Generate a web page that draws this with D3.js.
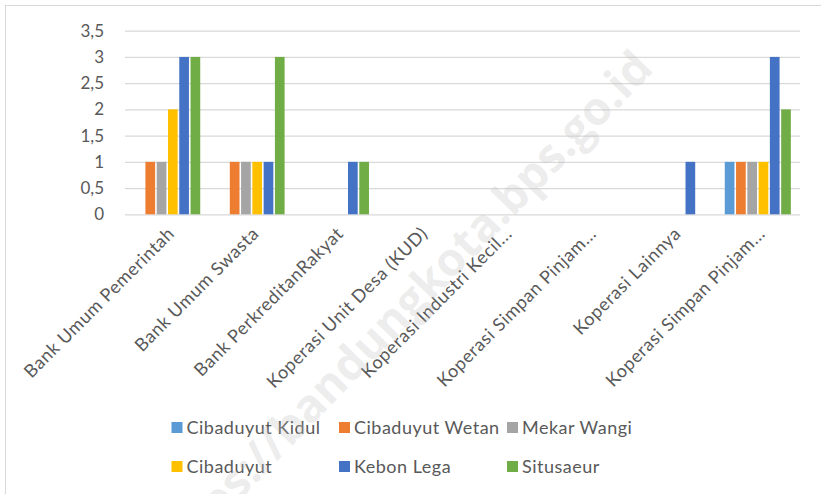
<!DOCTYPE html>
<html>
<head>
<meta charset="utf-8">
<script src="https://cdn.jsdelivr.net/npm/d3@7"></script>
<style>
  html, body { margin: 0; padding: 0; background: #fff; }
  svg { display: block; }
  text { font-family: Lato, "Open Sans", sans-serif; fill: #595959; }
</style>
</head>
<body>
<svg id="chart" width="821" height="494"></svg>
<script>
const categories = [
  "Bank Umum Pemerintah",
  "Bank Umum Swasta",
  "Bank PerkreditanRakyat",
  "Koperasi Unit Desa (KUD)",
  "Koperasi Industri Kecil...",
  "Koperasi Simpan Pinjam...",
  "Koperasi Lainnya",
  "Koperasi Simpan Pinjam..."
];
const seriesNames = ["Cibaduyut Kidul", "Cibaduyut Wetan", "Mekar Wangi", "Cibaduyut", "Kebon Lega", "Situsaeur"];
const seriesColors = ["#5B9BD5", "#ED7D31", "#A5A5A5", "#FFC000", "#4472C4", "#70AD47"];
const cibaduyutKidul = [0, 0, 0, 0, 0, 0, 0, 1];
const cibaduyutWetan = [1, 1, 0, 0, 0, 0, 0, 1];
const mekarWangi     = [1, 1, 0, 0, 0, 0, 0, 1];
const cibaduyut      = [2, 1, 0, 0, 0, 0, 0, 1];
const kebonLega      = [3, 1, 1, 0, 0, 0, 1, 3];
const situsaeur      = [3, 3, 1, 0, 0, 0, 0, 2];
const yTicks = [0, 0.5, 1, 1.5, 2, 2.5, 3, 3.5];
const yTickLabels = ["0", "0,5", "1", "1,5", "2", "2,5", "3", "3,5"];
const watermark = "https://bandungkota.bps.go.id";

const seriesValues = [cibaduyutKidul, cibaduyutWetan, mekarWangi, cibaduyut, kebonLega, situsaeur];

const svg = d3.select("#chart");
const plot = { left: 125, right: 800, top: 30.7, bottom: 214.3 };

// chart frame
svg.append("rect").attr("x", 5.5).attr("y", 5.5).attr("width", 900).attr("height", 600)
  .attr("fill", "none").attr("stroke", "#D9D9D9").attr("stroke-width", 1);

const x0 = d3.scaleBand().domain(d3.range(categories.length)).range([plot.left, plot.right]).padding(0);
const pad = x0.bandwidth() * 0.099;
const x1 = d3.scaleBand().domain(d3.range(seriesNames.length)).range([pad, x0.bandwidth() - pad]).paddingInner(0.14).paddingOuter(0.07);
const y = d3.scaleLinear().domain([0, 3.5]).range([plot.bottom, plot.top]);

// gridlines
const yAxis = d3.axisLeft(y).tickValues(yTicks).tickSize(-(plot.right - plot.left)).tickPadding(21)
  .tickFormat((d, i) => yTickLabels[i]);
const gy = svg.append("g").attr("transform", `translate(${plot.left},0)`).call(yAxis);
gy.select(".domain").remove();
gy.selectAll(".tick line").attr("stroke", "#D9D9D9").attr("stroke-width", 1.3);
gy.selectAll(".tick text").attr("font-size", 17).attr("fill", "#595959")
  .style("font-family", "Lato, sans-serif");

// bars
const groups = svg.append("g").selectAll("g").data(categories).join("g")
  .attr("transform", (d, i) => `translate(${x0(i)},0)`);
groups.selectAll("rect")
  .data((d, ci) => seriesValues.map((vals, si) => ({ si, v: vals[ci] })))
  .join("rect")
  .filter(d => d.v > 0)
  .attr("x", d => x1(d.si))
  .attr("width", x1.bandwidth())
  .attr("y", d => y(d.v))
  .attr("height", d => y(0) - y(d.v))
  .attr("fill", d => seriesColors[d.si]);

// category labels
svg.append("g").selectAll("text").data(categories).join("text")
  .attr("transform", (d, i) => `translate(${x0(i) + x0.bandwidth() / 2 + 4},${plot.bottom + 16}) rotate(-45)`)
  .attr("text-anchor", "end")
  .attr("dy", "0.35em")
  .attr("font-size", 18)
  .attr("letter-spacing", "0.6")
  .text(d => d);

// legend
const legendPos = [[171.5, 422], [339, 422], [507, 422], [171.5, 461], [339, 461], [507, 461]];
const lg = svg.append("g").selectAll("g").data(seriesNames).join("g")
  .attr("transform", (d, i) => `translate(${legendPos[i][0]},${legendPos[i][1]})`);
lg.append("rect").attr("width", 11).attr("height", 11).attr("fill", (d, i) => seriesColors[i]);
lg.append("text").attr("x", 15).attr("y", 5.5).attr("dy", "0.36em").attr("font-size", 18)
  .attr("letter-spacing", "0.5").text(d => d);

// watermark
svg.append("text")
  .attr("transform", "translate(655,70) rotate(-46)")
  .attr("text-anchor", "end")
  .attr("font-size", 46)
  .attr("font-weight", "bold")
  .style("font-family", "'Open Sans', Lato, sans-serif")
  .style("fill", "#BFBFBF")
  .style("fill-opacity", 0.3)
  .text(watermark);
</script>
</body>
</html>
